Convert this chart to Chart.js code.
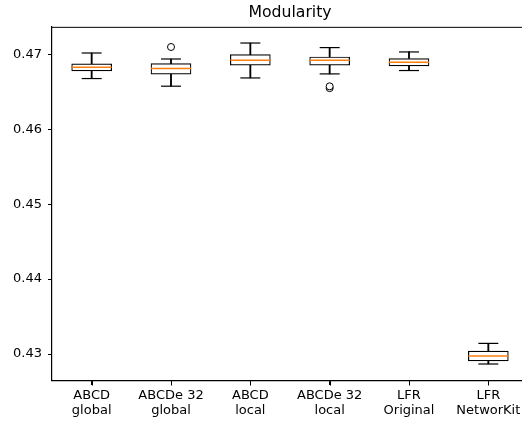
<!DOCTYPE html>
<html>
<head>
<meta charset="utf-8">
<script src="https://cdn.jsdelivr.net/npm/chart.js@4.4.1/dist/chart.umd.min.js"></script>
<style>
html,body{margin:0;padding:0;background:#fff;overflow:hidden;width:522px;height:421px;}
canvas{display:block;}
</style>
</head>
<body>
<canvas id="c" width="530" height="421"></canvas>
<script>
const categories = [['ABCD','global'],['ABCDe 32','global'],['ABCD','local'],['ABCDe 32','local'],['LFR','Original'],['LFR','NetworKit']];
const whiskerLow  = [0.46676, 0.46574, 0.46684, 0.46738, 0.46783, 0.42867];
const q1          = [0.46778, 0.46734, 0.46854, 0.46854, 0.46844, 0.42907];
const median      = [0.46827, 0.46810, 0.46920, 0.46920, 0.46893, 0.42973];
const q3          = [0.46871, 0.46876, 0.46996, 0.46964, 0.46943, 0.43040];
const whiskerHigh = [0.47017, 0.46937, 0.47150, 0.47089, 0.47031, 0.43142];
const outlierIndex = [1, 3, 3];
const outlierValue = [0.47097, 0.46572, 0.46548];
const yTicks = [0.43, 0.44, 0.45, 0.46, 0.47];

const FONT = 'DejaVu Sans';

// one dataset per outlier, null everywhere except its category
const outlierSets = outlierIndex.map((ci, k) => ({
  type: 'line', label: 'outlier' + k,
  data: categories.map((_, i) => (i === ci ? outlierValue[k] : null)),
  showLine: false, pointStyle: 'circle', pointRadius: 3.5, pointBackgroundColor: '#fff',
  borderColor: '#000', pointBorderColor: '#000', pointBorderWidth: 1, order: 0
}));

const frame = {
  id: 'frame',
  afterDraw(chart) {
    const a = chart.chartArea, ctx = chart.ctx;
    ctx.save();
    ctx.strokeStyle = '#000';
    ctx.lineWidth = 1;
    ctx.beginPath();
    ctx.moveTo(a.left, a.top + 0.5);
    ctx.lineTo(a.right, a.top + 0.5);
    ctx.lineTo(a.right, a.bottom);
    ctx.stroke();
    // x tick marks at category centres
    const xs = chart.scales.x;
    ctx.beginPath();
    xs.ticks.forEach((t, i) => {
      const px = Math.round(xs.getPixelForTick(i)) + 0.5;
      ctx.moveTo(px, a.bottom);
      ctx.lineTo(px, a.bottom + 4.5);
    });
    ctx.stroke();
    ctx.restore();
  }
};

new Chart(document.getElementById('c'), {
  type: 'bar',
  data: {
    labels: categories,
    datasets: [
      { type: 'line', label: 'median', data: median, showLine: false, pointStyle: 'line',
        pointRadius: 20, pointHoverRadius: 20, borderColor: '#ff7f0e', borderWidth: 1.5, order: 0, clip: false },
      ...outlierSets,
      { type: 'line', label: 'capLow', data: whiskerLow, showLine: false, pointStyle: 'line',
        pointRadius: 10, borderColor: '#000', borderWidth: 1.2, order: 1, clip: false },
      { type: 'line', label: 'capHigh', data: whiskerHigh, showLine: false, pointStyle: 'line',
        pointRadius: 10, borderColor: '#000', borderWidth: 1.2, order: 1, clip: false },
      { label: 'box', data: q1.map((v, i) => [v, q3[i]]), backgroundColor: '#fff', borderColor: '#000',
        borderWidth: 1.2, borderSkipped: false, barThickness: 40, grouped: false, order: 2 },
      { label: 'whiskerLow', data: whiskerLow.map((v, i) => [v, q1[i]]), backgroundColor: '#000',
        borderWidth: 0, barThickness: 1.2, grouped: false, order: 3 },
      { label: 'whiskerHigh', data: q3.map((v, i) => [v, whiskerHigh[i]]), backgroundColor: '#000',
        borderWidth: 0, barThickness: 1.2, grouped: false, order: 3 }
    ]
  },
  options: {
    responsive: false,
    animation: false,
    devicePixelRatio: 1,
    layout: { autoPadding: false, padding: { left: 0, right: 2, top: 0, bottom: 0 } },
    plugins: {
      legend: { display: false },
      tooltip: { enabled: false },
      title: { display: true, fullSize: false, text: 'Modularity', color: '#000',
        font: { family: FONT, size: 15.7, weight: 'normal', lineHeight: 1.2 }, padding: { top: 4, bottom: 4 } }
    },
    scales: {
      x: {
        offset: true,
        grid: { display: true, offset: false, drawOnChartArea: false, drawTicks: true, tickLength: 4, color: '#000', lineWidth: 1 },
        border: { display: true, color: '#000', width: 1.2 },
        ticks: { color: '#000', font: { family: FONT, size: 13, lineHeight: 1.15 }, padding: 3, maxRotation: 0, autoSkip: false },
        afterFit(s) { s.height = 40; s.paddingLeft = 0; s.paddingRight = 0; }
      },
      y: {
        min: 0.4264, max: 0.47366,
        afterBuildTicks(s) { s.ticks = yTicks.map(v => ({ value: v })); },
        grid: { display: true, drawOnChartArea: false, drawTicks: true, tickLength: 4, color: '#000' },
        border: { display: true, color: '#000', width: 1.2 },
        ticks: { color: '#000', font: { family: FONT, size: 13 }, padding: 6,
          callback: v => v.toFixed(2) },
        afterFit(s) { s.width = 52; s.paddingTop = 0; s.paddingBottom = 0; }
      }
    }
  },
  plugins: [frame]
});
</script>
</body>
</html>
